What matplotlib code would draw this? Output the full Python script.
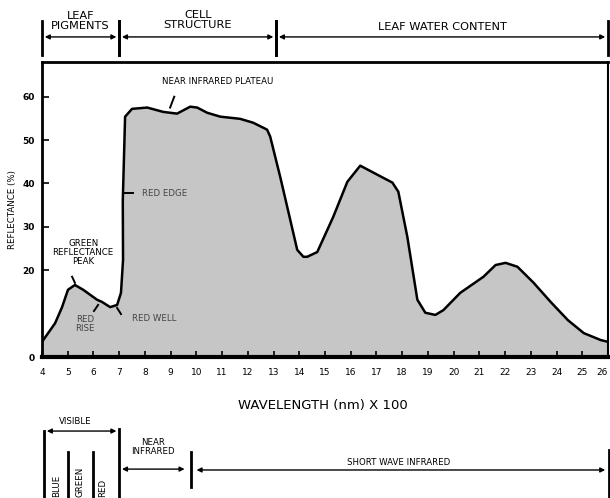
import numpy as np
import matplotlib
matplotlib.use("Agg")
from matplotlib import pyplot as plt

plt.rcParams["font.family"] = ["DejaVu Sans"]

# spectral reflectance curve of a green leaf
wavelength = [4.0, 4.51, 4.78, 5.01, 5.28, 5.60, 6.14, 6.33, 6.65, 6.92, 7.07, 7.15, 7.14,
              7.23, 7.50, 8.09, 8.71, 9.25, 9.76, 10.03, 10.42, 10.93, 11.70, 12.21, 12.75,
              12.87, 13.26, 13.65, 13.92, 14.16, 14.31, 14.70, 15.32, 15.87, 16.37, 17.04,
              17.62, 17.85, 18.20, 18.59, 18.90, 19.29, 19.60, 20.26, 21.16, 21.63, 22.02,
              22.48, 23.11, 23.77, 24.44, 25.06, 25.72, 26.0]
reflectance = [3.5, 7.8, 11.5, 15.5, 16.6, 15.5, 13.2, 12.7, 11.5, 12.0, 14.8, 22.4, 36.0,
               55.4, 57.2, 57.5, 56.5, 56.1, 57.7, 57.5, 56.3, 55.4, 54.9, 54.0, 52.4,
               50.8, 41.5, 31.6, 24.7, 23.1, 23.1, 24.2, 32.3, 40.4, 44.1, 42.0,
               40.2, 38.1, 27.7, 13.2, 10.2, 9.7, 10.8, 14.8, 18.5, 21.2, 21.7,
               20.8, 17.1, 12.7, 8.5, 5.5, 3.9, 3.5]

xticks = list(range(4, 27))
yticks = [0, 20, 30, 40, 50, 60]

# top brackets: (left, right, label)
top_regions = [(4.0, 7.0, "LEAF\nPIGMENTS"), (7.0, 13.1, "CELL\nSTRUCTURE"),
               (13.1, 26.0, "LEAF WATER CONTENT")]
# bottom brackets
visible_bounds = [4.08, 7.0]
colour_bounds = [5.01, 5.98]
colour_names = ["BLUE", "GREEN", "RED"]
nir_bounds = [7.0, 9.8]
swir_bounds = [9.8, 26.05]

fig = plt.figure(figsize=(6.1, 4.98), dpi=100)
ax = fig.add_axes([42 / 610, 1 - 357 / 498, 566 / 610, 295 / 498])

ax.fill_between(wavelength, reflectance, 0, color="#c6c6c6", lw=0)
ax.plot(wavelength, reflectance, color="black", lw=1.8, solid_joinstyle="round")

ax.set_xlim(4, 26)
ax.set_ylim(0, 68)
ax.set_xticks(xticks)
ax.set_yticks(yticks)
ax.tick_params(axis="x", direction="in", length=4, width=1.2, pad=8, labelsize=6.5)
ax.tick_params(axis="y", direction="in", length=5, width=1.2, pad=5, labelsize=6.5)
for t in ax.get_yticklabels():
    t.set_fontweight("bold")
ax.get_xticklabels()[-1].set_ha("right")
ax.spines["left"].set_linewidth(2)
ax.spines["bottom"].set_linewidth(3)
ax.spines["top"].set_linewidth(2)
ax.spines["right"].set_linewidth(1.5)

# curve annotations
lead = dict(color="black", lw=1.4)
fs = 6.2
ax.text(10.81, 63.5, "NEAR INFRARED PLATEAU", ha="center", va="center", fontsize=fs)
ax.plot([9.14, 8.98], [60.0, 57.5], **lead)
ax.text(7.89, 37.8, "RED EDGE", ha="left", va="center", fontsize=fs, color="#444444")
ax.plot([7.23, 7.54], [37.8, 37.8], **lead)
ax.text(5.6, 24.0, "GREEN\nREFLECTANCE\nPEAK", ha="center", va="center", fontsize=fs,
        linespacing=1.0)
ax.plot([5.17, 5.28], [18.5, 17.1], **lead)
ax.text(5.67, 7.6, "RED\nRISE", ha="center", va="center", fontsize=fs, color="#444444",
        linespacing=1.1)
ax.plot([6.18, 6.02], [12.0, 10.6], **lead)
ax.text(8.36, 8.8, "RED WELL", ha="center", va="center", fontsize=fs, color="#444444")
ax.plot([6.92, 7.07], [11.3, 9.9], **lead)

tr = ax.get_xaxis_transform()
bar = dict(color="black", lw=2, transform=tr, clip_on=False)
arrow = dict(arrowstyle="<|-|>", color="black", lw=1.0, mutation_scale=7,
             shrinkA=2, shrinkB=2)

# top brackets
for left, right, label in top_regions:
    for xb in (left, right):
        ax.plot([xb, xb], [1.024, 1.139], **bar)
    ax.annotate("", xy=(left, 1.085), xytext=(right, 1.085), xycoords=tr,
                textcoords=tr, arrowprops=arrow, annotation_clip=False)
top_text_y = [1.139, 1.142, 1.119]
for (left, right, label), ty in zip(top_regions, top_text_y):
    ax.text((left + right) / 2, ty, label, transform=tr, ha="center", va="center",
            fontsize=8.2, linespacing=0.95)

ax.text(14.9, -0.163, "WAVELENGTH (nm) X 100", transform=tr, ha="center", va="center",
        fontsize=9.5)
fig.text(12 / 610, 1 - 210 / 498, "REFLECTANCE (%)", rotation=90, ha="center",
         va="center", fontsize=6.2)

# bottom brackets
ax.text(5.28, -0.220, "VISIBLE", transform=tr, ha="center", va="center", fontsize=fs)
ax.annotate("", xy=(visible_bounds[0], -0.251), xytext=(visible_bounds[1], -0.251),
            xycoords=tr, textcoords=tr, arrowprops=arrow, annotation_clip=False)
ax.plot([visible_bounds[0]] * 2, [-0.251, -0.48], **bar)
ax.plot([visible_bounds[1]] * 2, [-0.244, -0.48], **bar)
for xb in colour_bounds:
    ax.plot([xb, xb], [-0.322, -0.48], **bar)
colour_x = [4.58, 5.48, 6.37]
for cx, name in zip(colour_x, colour_names):
    ax.text(cx, -0.475, name, transform=tr, rotation=90, ha="center", va="bottom",
            fontsize=fs)

ax.text(8.32, -0.305, "NEAR\nINFRARED", transform=tr, ha="center", va="center",
        fontsize=fs, linespacing=1.0)
ax.annotate("", xy=(nir_bounds[0], -0.380), xytext=(nir_bounds[1] - 0.15, -0.380),
            xycoords=tr, textcoords=tr, arrowprops=arrow, annotation_clip=False)
ax.plot([nir_bounds[1]] * 2, [-0.322, -0.441], **bar)
ax.annotate("", xy=(swir_bounds[0] + 0.1, -0.383), xytext=(swir_bounds[1] - 0.05, -0.383),
            xycoords=tr, textcoords=tr, arrowprops=arrow, annotation_clip=False)
ax.plot([swir_bounds[1]] * 2, [-0.315, -0.48], **bar)
ax.text(17.85, -0.356, "SHORT WAVE INFRARED", transform=tr, ha="center", va="center",
        fontsize=fs)

fig.savefig("out.png", dpi=100)
